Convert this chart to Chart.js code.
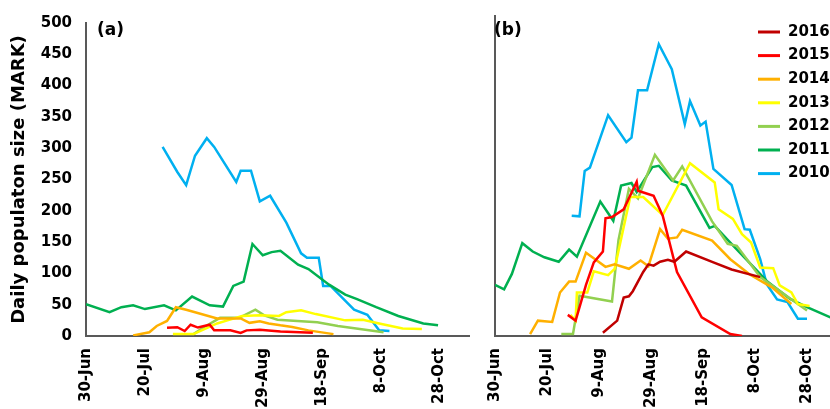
<!DOCTYPE html>
<html>
<head>
<meta charset="utf-8">
<script src="https://cdn.jsdelivr.net/npm/chart.js@4.4.0/dist/chart.umd.min.js"></script>
<style>
  html, body { margin: 0; padding: 0; background: #fff; }
  #wrap { position: relative; width: 830px; height: 409px; overflow: hidden; }
  #chartA { position: absolute; left: 0; top: 0; width: 480px; height: 409px; }
  #chartB { position: absolute; left: 480px; top: 0; width: 360px; height: 409px; }
</style>
</head>
<body>
<div id="wrap">
  <canvas id="chartA" width="480" height="409"></canvas>
  <canvas id="chartB" width="360" height="409"></canvas>
</div>
<script>
// years and colours, legend order
const years = ["2016", "2015", "2014", "2013", "2012", "2011", "2010"];
const colors = ["#C00000", "#FF0000", "#FFB000", "#FFFF00", "#92D050", "#00B050", "#00B0F0"];

// x axis: days since 30-Jun
const tickDays = [0, 20, 40, 60, 80, 100, 120];
const tickLabels = ["30-Jun", "20-Jul", "9-Aug", "29-Aug", "18-Sep", "8-Oct", "28-Oct"];
const yTitle = "Daily populaton size (MARK)";

// panel (a): [day, value]
const a2015 = [[27.5,13],[31,14],[33.5,8],[35.5,18],[38,13.5],[42,18],[43.5,9],[49,9],[52.5,5],[54.5,9],[59,10],[66,7],[77,5]];
const a2014 = [[16,1],[21.5,6],[24,16],[27.5,24],[30.5,46],[34,42],[44.5,28],[52.5,28],[55.5,21],[59,23.5],[62,20],[66,17],[70,14.5],[75.5,9],[84,3]];
const a2013 = [[29.5,3],[36.5,3],[44.5,20],[48,25],[53,32],[59,33],[65.5,32],[68,38],[73,41],[78,35],[88,25],[94,26],[99.5,20],[107.5,12],[114,11]];
const a2012 = [[36.5,3],[40,14],[45.5,29],[52,29],[57.5,42],[60.5,33],[65,26],[78.5,22],[85.5,16],[101,6]];
const a2011 = [[0,51],[8,38],[12,46],[16,49],[20,43],[26.5,49],[30.5,41],[36,63],[42,49],[46.5,47],[50,80],[53.5,87],[56.5,147],[60,129],[63,134],[66,136],[72,114],[75.5,107],[82.5,82],[88,66],[92,59],[98.5,46],[106,32],[114.5,20],[119.5,17]];
const a2010 = [[26,302],[31,262],[34,241],[37,288],[41,316],[43.5,302],[51,246],[52.5,264],[56,264],[59,215],[62.5,224],[68,181],[73,132],[75,125],[79,125],[80.5,80],[83,80],[91,42],[95.5,34],[99.5,9],[103,8]];

// panel (b): [day, value]
const b2016 = [[41.5,5],[47,24],[49.5,60],[51.5,62],[53,70],[57,100],[59,112],[61,110],[63.5,116],[66.5,119],[69,116],[73.5,132],[84,115],[91,104],[102,92]];
const b2015 = [[28,33],[31,24],[35,80],[38,115],[41.5,132],[42.5,184],[45,186],[49.5,198],[54.5,241],[55,227],[61,219],[64.5,188],[70,100],[79.5,29],[90.5,3],[95,0]];
const b2014 = [[13.5,3],[16.5,24],[22,22],[25,68],[28.5,85],[31,85],[35,130],[38.5,120],[42.5,108],[46,112],[51.5,105],[56,118],[59,109],[63.5,167],[66.5,152],[70,154],[72,166],[83.5,149],[90.5,120],[98,96],[106.5,76],[114,50]];
const b2013 = [[29,33],[31,24],[31.5,68],[35.5,68],[38,101],[43.5,95],[46,105],[52,217],[57,217],[64.5,189],[75,270],[84.5,240],[86,198],[91.5,183],[95,159],[98.5,146],[102,107],[107,106],[109.5,79],[114,68],[116.5,50],[121,47]];
const b2012 = [[25.5,3],[30,3],[32.5,63],[45,54],[47.5,150],[51.5,230],[55,215],[61.5,283],[68.5,243],[72,265],[83.5,179],[89.5,144],[93,141],[102,92],[120,40]];
const b2011 = [[0,80],[3.5,73],[6.5,97],[10.5,145],[14.5,132],[19,123],[24.5,116],[28.5,135],[31.5,124],[40.5,210],[45.5,180],[48.5,235],[52.5,239],[54.5,225],[60.5,264],[63,266],[68,243],[73.5,235],[82.5,169],[84.5,172],[90.5,146],[97,118],[104.5,86],[113.5,58],[120,45],[129,29]];
const b2010 = [[29.5,188],[32.5,187],[34.5,258],[36.5,263],[43.5,345],[50.5,303],[52.5,310],[55,384],[58.5,384],[63,456],[68,417],[73,331],[75,367],[79,329],[81,335],[84,261],[91,236],[96,167],[98,166],[102,120],[104.5,81],[108.5,57],[112.5,53],[116.5,27],[120,27]];

const panelA = [null, a2015, a2014, a2013, a2012, a2011, a2010];
const panelB = [b2016, b2015, b2014, b2013, b2012, b2011, b2010];

const fontFamily = '"DejaVu Sans", sans-serif';
const tickFont = { family: fontFamily, size: 15, weight: "bold" };
const axisColor = "#595959";

function makeSets(series) {
  return series.map((pts, i) => pts && {
    label: years[i],
    data: pts.map(([x, y]) => ({ x, y })),
    borderColor: colors[i],
    backgroundColor: colors[i],
    borderWidth: 2.5,
    pointRadius: 0,
    tension: 0,
    fill: false
  }).filter(Boolean);
}

function makeScales(showY) {
  return {
    x: {
      type: "linear",
      min: 0,
      max: 130,
      afterBuildTicks: (s) => { s.ticks = tickDays.map(v => ({ value: v })); },
      afterFit: (s) => { s.height = 73; },
      grid: { display: false, drawTicks: false },
      border: { display: true, color: axisColor, width: 2 },
      ticks: {
        minRotation: 90, maxRotation: 90, autoSkip: false, padding: 12,
        color: "#000", font: tickFont,
        callback: (v) => tickLabels[tickDays.indexOf(v)]
      }
    },
    y: {
      min: 0,
      max: 500,
      afterFit: (s) => { s.width = showY ? 86 : 15; },
      grid: { display: false, drawTicks: false },
      border: { display: true, color: axisColor, width: 2 },
      ticks: { display: showY, stepSize: 50, padding: 14, color: "#000", font: tickFont },
      title: {
        display: showY, text: yTitle, color: "#000",
        font: { family: fontFamily, size: 18, weight: "bold" },
        padding: { top: 9, bottom: 0 }
      }
    }
  };
}

// "(a)" / "(b)" tag in the corner
function panelTag(text, dx) {
  return {
    id: "panelTag",
    afterDraw(chart) {
      const ctx = chart.ctx;
      ctx.save();
      ctx.font = "bold 17px " + fontFamily;
      ctx.fillStyle = "#000";
      ctx.textBaseline = "middle";
      ctx.fillText(text, chart.chartArea.left + dx, 31);
      ctx.restore();
    }
  };
}

// legend inside panel (b), top right
const yearLegend = {
  id: "yearLegend",
  afterDraw(chart) {
    const ctx = chart.ctx;
    ctx.save();
    ctx.font = "bold 15px " + fontFamily;
    ctx.textBaseline = "middle";
    chart.data.datasets.forEach((ds, i) => {
      const y = 32 + i * 23.6;
      ctx.strokeStyle = ds.borderColor;
      ctx.lineWidth = 3;
      ctx.beginPath();
      ctx.moveTo(278, y);
      ctx.lineTo(300, y);
      ctx.stroke();
      ctx.fillStyle = "#000";
      ctx.fillText(ds.label, 308, y);
    });
    ctx.restore();
  }
};

const baseOptions = (showY, padRight) => ({
  responsive: false,
  animation: false,
  layout: { padding: { top: 16, right: padRight, left: 0, bottom: 0 } },
  plugins: { legend: { display: false }, tooltip: { enabled: false } },
  scales: makeScales(showY)
});

new Chart(document.getElementById("chartA"), {
  type: "line",
  data: { datasets: makeSets(panelA) },
  options: baseOptions(true, 11),
  plugins: [panelTag("(a)", 11)]
});

new Chart(document.getElementById("chartB"), {
  type: "line",
  data: { datasets: makeSets(panelB) },
  options: baseOptions(false, 7),
  plugins: [panelTag("(b)", -1), yearLegend]
});
</script>
</body>
</html>
